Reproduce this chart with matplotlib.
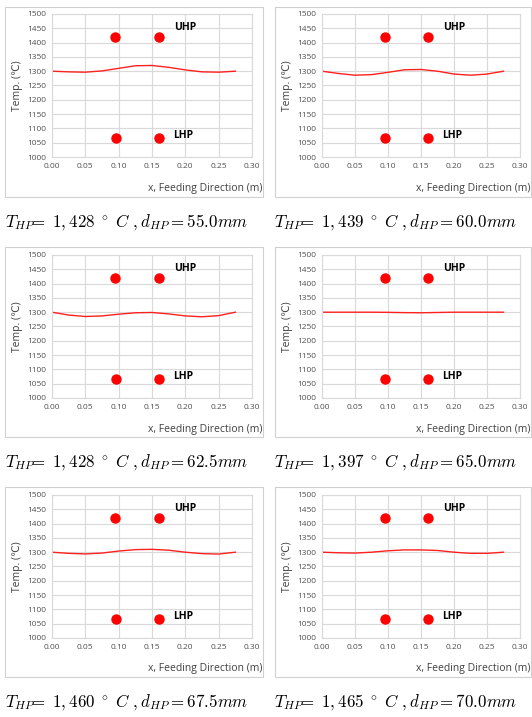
import matplotlib
matplotlib.use("Agg")
import matplotlib.pyplot as plt
from matplotlib.patches import Rectangle

# ---------------- data ----------------
x_pos = [0.0, 0.025, 0.05, 0.075, 0.1, 0.125, 0.15, 0.175, 0.2, 0.225, 0.25, 0.275]
temp_55 = [1300, 1297.7, 1296.6, 1301, 1310, 1319, 1320, 1313.6, 1304.5, 1297.7, 1296.6, 1300]
temp_60 = [1300, 1292, 1286, 1288, 1296, 1305, 1306, 1300, 1290, 1286, 1290, 1300]
temp_625 = [1300, 1290, 1285, 1287, 1293, 1298, 1299, 1294, 1287, 1284, 1288, 1300]
temp_65 = [1300, 1300, 1300, 1300, 1299.5, 1298.5, 1298, 1299, 1300, 1300, 1300, 1300]
temp_675 = [1300, 1296, 1294, 1297, 1304, 1309, 1310, 1307, 1300, 1295, 1293.5, 1300]
temp_70 = [1300, 1298, 1297, 1300, 1305, 1308, 1308, 1306, 1300, 1296, 1296, 1300]
profiles = [temp_55, temp_60, temp_625, temp_65, temp_675, temp_70]

uhp_x = [0.095, 0.16]
uhp_y = [1418, 1418]
lhp_x = [0.096, 0.161]
lhp_y = [1068, 1068]

captions = [
    r"$T_{HP}\!\!=\ 1,428\ ^\circ\ C\ ,d_{HP}=55.0mm$",
    r"$T_{HP}\!\!=\ 1,439\ ^\circ\ C\ ,d_{HP}=60.0mm$",
    r"$T_{HP}\!\!=\ 1,428\ ^\circ\ C\ ,d_{HP}=62.5mm$",
    r"$T_{HP}\!\!=\ 1,397\ ^\circ\ C\ ,d_{HP}=65.0mm$",
    r"$T_{HP}\!\!=\ 1,460\ ^\circ\ C\ ,d_{HP}=67.5mm$",
    r"$T_{HP}\!\!=\ 1,465\ ^\circ\ C\ ,d_{HP}=70.0mm$",
]
x_ticks = [0.00, 0.05, 0.10, 0.15, 0.20, 0.25, 0.30]
y_ticks = [1000, 1050, 1100, 1150, 1200, 1250, 1300, 1350, 1400, 1450, 1500]

# ---------------- layout ----------------
W, H = 532, 717
plt.rcParams['mathtext.fontset'] = 'cm'
fig = plt.figure(figsize=(W / 100, H / 100), dpi=100)

col_plot = [(52, 252), (322, 520)]
col_box = [(5, 263), (275, 531)]
col_cap = [5, 274]
row_plot = [(14, 157), (255, 398), (495, 638)]
row_box = [(7, 197), (247, 437), (487, 677)]
row_cap = [222, 462, 702]

font = ['Open Sans', 'DejaVu Sans']
tick_col = '#505050'
grid_col = '#d9d9d9'

for i, prof in enumerate(profiles):
    r, c = divmod(i, 2)
    bx0, bx1 = col_box[c]
    by0, by1 = row_box[r]
    fig.patches.append(Rectangle((bx0 / W, 1 - by1 / H), (bx1 - bx0) / W, (by1 - by0) / H,
                                 transform=fig.transFigure, fill=False,
                                 edgecolor='#d0d0d0', lw=0.8))
    px0, px1 = col_plot[c]
    py0, py1 = row_plot[r]
    ax = fig.add_axes([px0 / W, 1 - py1 / H, (px1 - px0) / W, (py1 - py0) / H])
    ax.set_xlim(0, 0.30)
    ax.set_ylim(1000, 1500)
    ax.set_xticks(x_ticks)
    ax.set_yticks(y_ticks)
    ax.set_xticklabels([f"{v:.2f}" for v in x_ticks], fontsize=6, color=tick_col, family=font)
    ax.set_yticklabels([str(v) for v in y_ticks], fontsize=6, color=tick_col, family=font)
    ax.tick_params(length=0, pad=4)
    ax.grid(True, color=grid_col, lw=0.8)
    ax.set_axisbelow(True)
    for s in ax.spines.values():
        s.set_color(grid_col)
        s.set_linewidth(0.8)
    ax.plot(x_pos, prof, color='#ff2020', lw=1.0)
    ax.plot(uhp_x, uhp_y, 'o', color='#ff0000', ms=6.5)
    ax.plot(lhp_x, lhp_y, 'o', color='#ff0000', ms=6.5)
    ax.text(0.183, 1452, "UHP", fontsize=7.5, fontweight='bold', family=font, va='center')
    ax.text(0.182, 1076, "LHP", fontsize=7.5, fontweight='bold', family=font, va='center')
    ax.set_ylabel("Temp. (℃)", fontsize=7.5, color='#404040', family=font, labelpad=3)
    fig.text((bx1 - 1) / W, 1 - 189 / H - (row_box[r][0] - 7) / H, "x, Feeding Direction (m)",
             fontsize=7.5, color='#404040', family=font, ha='right', va='center')
    fig.text(col_cap[c] / W, 1 - row_cap[r] / H, captions[i], fontsize=12.2,
             ha='left', va='center')

fig.savefig("out.png", dpi=100, facecolor='white')
